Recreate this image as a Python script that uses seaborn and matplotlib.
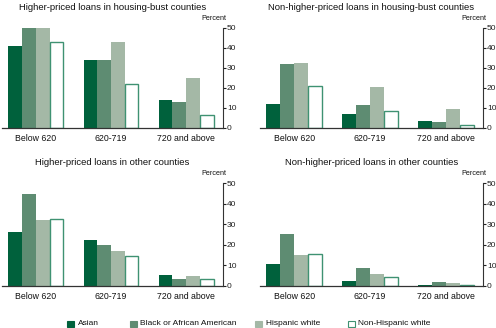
import matplotlib
matplotlib.use("Agg")
import matplotlib.pyplot as plt
from matplotlib.patches import Rectangle
import seaborn as sns
import pandas as pd

sns.set_style("white")
plt.rcParams["font.family"] = ["Liberation Sans", "DejaVu Sans"]

credit_scores = ["Below 620", "620-719", "720 and above"]
groups = ["Asian", "Black or African American", "Hispanic white", "Non-Hispanic white"]

# Share of borrowers (percent) by credit score band, one list per group
hp_bust = {
    "Asian": [41, 34, 14],
    "Black or African American": [51, 34, 13],
    "Hispanic white": [52, 43, 25],
    "Non-Hispanic white": [43, 22, 6.5],
}
nonhp_bust = {
    "Asian": [12, 7, 3.3],
    "Black or African American": [32, 11.5, 2.8],
    "Hispanic white": [32.5, 20.5, 9.3],
    "Non-Hispanic white": [21, 8.5, 1.5],
}
hp_other = {
    "Asian": [26.3, 22.3, 5.4],
    "Black or African American": [44.7, 19.8, 3.3],
    "Hispanic white": [31.9, 17, 4.7],
    "Non-Hispanic white": [32.7, 14.5, 3.4],
}
nonhp_other = {
    "Asian": [10.7, 2.6, 0.5],
    "Black or African American": [25.2, 8.5, 2.1],
    "Hispanic white": [15.2, 5.8, 1.3],
    "Non-Hispanic white": [15.4, 4.2, 0.5],
}

titles = [
    "Higher-priced loans in housing-bust counties",
    "Non-higher-priced loans in housing-bust counties",
    "Higher-priced loans in other counties",
    "Non-higher-priced loans in other counties",
]
panels = [hp_bust, nonhp_bust, hp_other, nonhp_other]

colors = ["#00613c", "#5e8c72", "#a4b8a6", "#ffffff"]
outline = "#3f9272"

W, H = 496, 328
fig = plt.figure(figsize=(W / 100, H / 100), dpi=100)

# axes boxes in pixels: left, right, top(50), bottom(0)
boxes = [
    (2, 223, 28, 128),
    (260, 483, 28, 128),
    (2, 223, 183, 286),
    (260, 483, 183, 286),
]

for data, title, (x0, x1, y0, y1) in zip(panels, titles, boxes):
    ax = fig.add_axes([x0 / W, 1 - y1 / H, (x1 - x0) / W, (y1 - y0) / H])
    rows = []
    for g in groups:
        for cs, v in zip(credit_scores, data[g]):
            rows.append({"score": cs, "group": g, "value": v})
    df = pd.DataFrame(rows)
    sns.barplot(data=df, x="score", y="value", hue="group", order=credit_scores,
                hue_order=groups, palette=colors, width=0.73, gap=0,
                saturation=1, legend=False, ax=ax, linewidth=0)
    for i, cont in enumerate(ax.containers):
        for bar in cont:
            if i == 3:
                bar.set_facecolor("white")
                bar.set_edgecolor(outline)
                bar.set_linewidth(1.0)
            else:
                bar.set_edgecolor("none")
    ax.set_xlim(-0.45, 2.49)
    ax.set_ylim(0, 50)
    ax.set_yticks([0, 10, 20, 30, 40, 50])
    ax.yaxis.tick_right()
    ax.tick_params(axis="y", direction="out", length=1.8, width=0.8, pad=1,
                   labelsize=6, colors="#222222")
    ax.tick_params(axis="x", length=0, pad=4, labelsize=6.3, colors="#111111")
    for s in ["left", "top"]:
        ax.spines[s].set_visible(False)
    ax.spines["right"].set_color("#333333")
    ax.spines["right"].set_linewidth(0.8)
    ax.spines["bottom"].set_color("#333333")
    ax.spines["bottom"].set_linewidth(0.9)
    ax.set_xlabel("")
    ax.set_ylabel("")
    ax.set_title(title, fontsize=6.8, pad=13, color="#111111")
    ax.text(1.015, 1.06, "Percent", transform=ax.transAxes, ha="right", va="bottom",
            fontsize=5.2, color="#111111")

# legend row along the bottom
legend_x = [67, 130, 255, 348]
for x, g, c in zip(legend_x, groups, colors):
    ec = outline if c == "#ffffff" else c
    fig.patches.append(Rectangle((x / W, 1 - 327 / H), 6.5 / W, 6.5 / H,
                                 transform=fig.transFigure, facecolor=c,
                                 edgecolor=ec, linewidth=0.8))
    fig.text((x + 10.5) / W, 1 - 323.5 / H, g, ha="left", va="center",
             fontsize=6, color="#111111")

fig.savefig("out.png", dpi=100)
